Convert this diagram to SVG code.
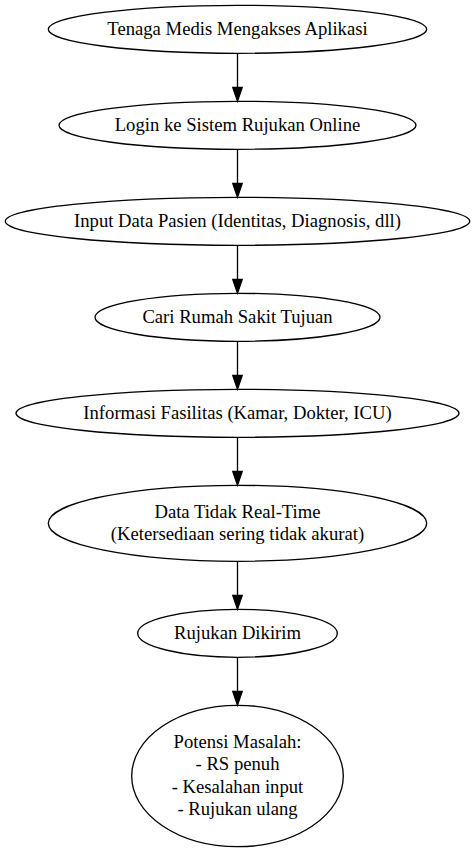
<svg xmlns="http://www.w3.org/2000/svg" width="475" height="852" viewBox="0 0 475 852">
<defs>
<style>
.n ellipse{fill:none;stroke:#000;stroke-width:1.33}
.n text{font-size:18.67px;text-anchor:middle;fill:#000}
.e path{fill:none;stroke:#000;stroke-width:1.33}
.e polygon{fill:#000;stroke:#000;stroke-width:1.33}
</style>
</defs>
<rect width="475" height="852" fill="#fff"/>
<g id="edges" class="e">
<path d="M237.5 53.3V87.5"/><polygon points="232.8,87.5 237.5,101.3 242.2,87.5"/>
<path d="M237.5 149.3V183.5"/><polygon points="232.8,183.5 237.5,197.3 242.2,183.5"/>
<path d="M237.5 245.3V279.5"/><polygon points="232.8,279.5 237.5,293.3 242.2,279.5"/>
<path d="M237.5 341.3V375.5"/><polygon points="232.8,375.5 237.5,389.3 242.2,375.5"/>
<path d="M237.5 437.3V471.5"/><polygon points="232.8,471.5 237.5,485.3 242.2,471.5"/>
<path d="M237.5 561.3V595.5"/><polygon points="232.8,595.5 237.5,609.3 242.2,595.5"/>
<path d="M237.5 657.3V691.5"/><polygon points="232.8,691.5 237.5,705.3 242.2,691.5"/>
</g>
<g id="nodes" font-family="Liberation Serif, Times New Roman, serif">
<g id="n1" class="n"><ellipse cx="237.5" cy="29.3" rx="189.2" ry="24"/><text x="237.5" y="34.9">Tenaga Medis Mengakses Aplikasi</text></g>
<g id="n2" class="n"><ellipse cx="237.5" cy="125.3" rx="178.5" ry="24"/><text x="237.5" y="130.9">Login ke Sistem Rujukan Online</text></g>
<g id="n3" class="n"><ellipse cx="237.5" cy="221.3" rx="232.2" ry="24"/><text x="237.5" y="226.9">Input Data Pasien (Identitas, Diagnosis, dll)</text></g>
<g id="n4" class="n"><ellipse cx="237.5" cy="317.3" rx="142.5" ry="24"/><text x="237.5" y="322.9">Cari Rumah Sakit Tujuan</text></g>
<g id="n5" class="n"><ellipse cx="237.5" cy="413.3" rx="221.5" ry="24"/><text x="237.5" y="418.9">Informasi Fasilitas (Kamar, Dokter, ICU)</text></g>
<g id="n6" class="n"><ellipse cx="237.5" cy="523.3" rx="189.2" ry="38"/><text x="237.5" y="517.7">Data Tidak Real-Time</text><text x="237.5" y="540.1">(Ketersediaan sering tidak akurat)</text></g>
<g id="n7" class="n"><ellipse cx="237.5" cy="633.3" rx="99.8" ry="24"/><text x="237.5" y="638.9">Rujukan Dikirim</text></g>
<g id="n8" class="n"><ellipse cx="237.5" cy="776" rx="105.8" ry="70.7"/><text x="237.5" y="748">Potensi Masalah:</text><text x="237.5" y="770.4">- RS penuh</text><text x="237.5" y="792.8">- Kesalahan input</text><text x="237.5" y="815.2">- Rujukan ulang</text></g>
</g>
</svg>
